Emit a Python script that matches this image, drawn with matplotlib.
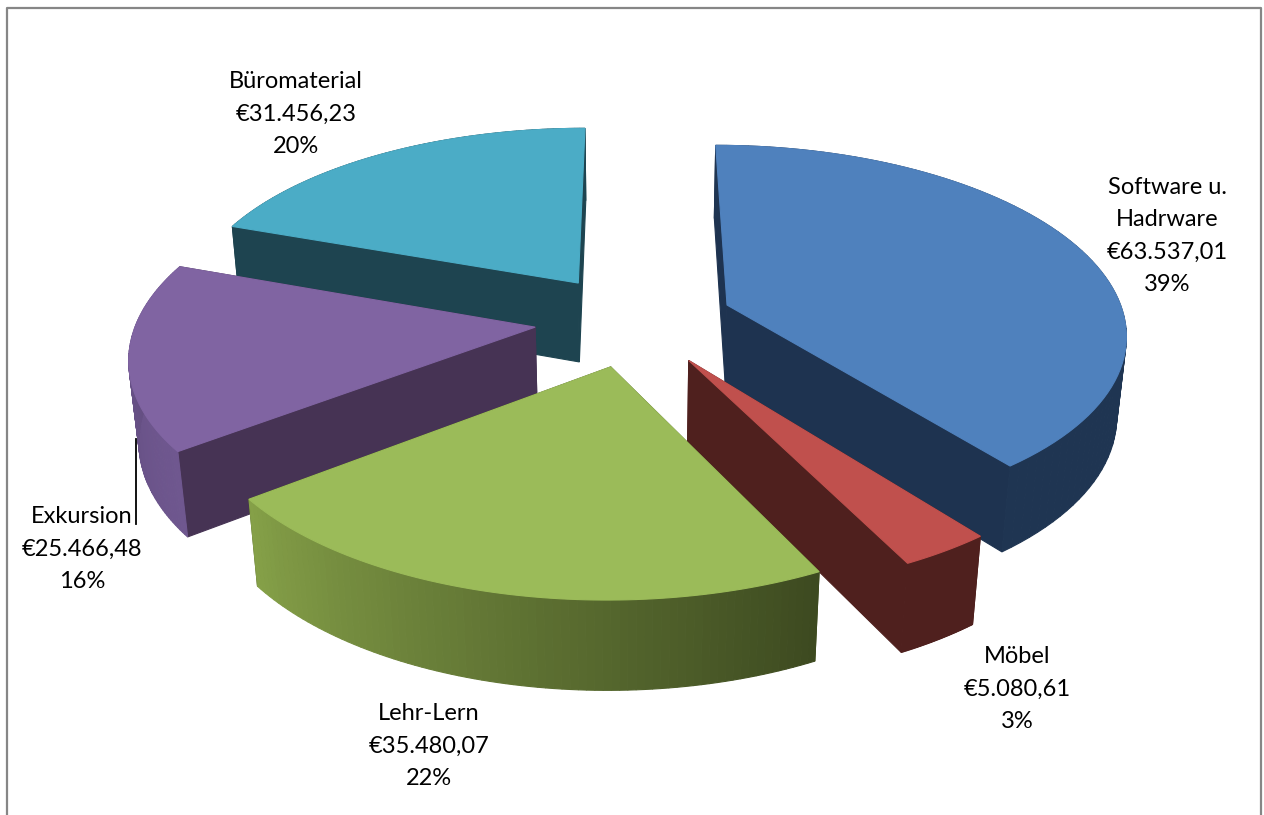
import numpy as np
import matplotlib.pyplot as plt
from matplotlib.patches import Polygon
from matplotlib.colors import to_rgb

plt.rcParams['font.family'] = ['Lato', 'DejaVu Sans']

# chart data
names = ['Software u.\nHadrware', 'Möbel', 'Lehr-Lern', 'Exkursion', 'Büromaterial']
values = [63537.01, 5080.61, 35480.07, 25466.48, 31456.23]
value_labels = ['€63.537,01', '€5.080,61', '€35.480,07', '€25.466,48', '€31.456,23']
percents = ['39%', '3%', '22%', '16%', '20%']

# colours: top, radial wall, rim start, rim end
top_colors = ['#4f81bd', '#c0504d', '#9bbb59', '#8064a2', '#4bacc6']
wall_colors = ['#1e3350', '#4f201e', '#46551f', '#463354', '#1e4450']
rim_start = ['#1f3552', '#4f201e', '#3d4a20', '#6f578f', '#1e4450']
rim_end = ['#1f3552', '#4f201e', '#85a048', '#5f4a7c', '#1e4450']

label_pos = [(1167, 236), (1017, 689), (429, 746), (82, 549), (296, 114)]

# camera settings (pixels)
CX, CY = 634, 320
A, B = 398, 186
KY, KZ = 0.14, 0.02
DEPTH = 82
EXPLODE = 0.25


def project(x, y, z):
    w = 1 + KY * y + KZ * z
    return np.column_stack([CX + A * x / w, CY - B * y / w + DEPTH * z / w])


fig = plt.figure(figsize=(12.64, 8.15), dpi=100)
ax = fig.add_axes([0, 0, 1, 1])
ax.set_xlim(0, 1264)
ax.set_ylim(815, 0)
ax.axis('off')

fractions = np.array(values) / np.sum(values)
edges = np.concatenate([[0], np.cumsum(fractions)]) * 2 * np.pi


def add_poly(pts, color, z):
    ax.add_patch(Polygon(pts, closed=True, fc=color, ec=color, lw=0.8, zorder=z))


# back to front
for order, i in enumerate([4, 3, 0, 1, 2]):
    t1, t2 = edges[i], edges[i + 1]
    mid = (t1 + t2) / 2
    ox, oy = EXPLODE * np.sin(mid), EXPLODE * np.cos(mid)
    th = np.linspace(t1, t2, 80)
    rx, ry = ox + np.sin(th), oy + np.cos(th)
    base = order * 10 + 2

    # radial walls
    for t in (t1, t2):
        xs = np.array([ox, ox + np.sin(t)])
        ys = np.array([oy, oy + np.cos(t)])
        pts = np.vstack([project(xs, ys, 0 * xs), project(xs[::-1], ys[::-1], 1 + 0 * xs)])
        add_poly(pts, wall_colors[i], base)

    # rim, split in strips so it can carry the gradient
    c0, c1 = np.array(to_rgb(rim_start[i])), np.array(to_rgb(rim_end[i]))
    for k in range(len(th) - 1):
        s = k / (len(th) - 2)
        xs = rx[k:k + 2]
        ys = ry[k:k + 2]
        pts = np.vstack([project(xs, ys, 0 * xs), project(xs[::-1], ys[::-1], 1 + 0 * xs)])
        add_poly(pts, tuple(c0 + (c1 - c0) * s), base + 1)

    # top face
    xs = np.concatenate([[ox], rx])
    ys = np.concatenate([[oy], ry])
    add_poly(project(xs, ys, 0 * xs), top_colors[i], base + 2)

    tx, ty = label_pos[i]
    ax.text(tx, ty, names[i] + '\n' + value_labels[i] + '\n' + percents[i],
            ha='center', va='center', fontsize=17, color='black',
            linespacing=1.68, zorder=100)

# leader line of Exkursion
ax.plot([136, 136], [439, 524], color='black', lw=1.3, zorder=99)

# chart frame, open at the bottom edge
ax.plot([6.5, 6.5, 1261, 1261], [815, 7.5, 7.5, 815], color='#868686', lw=1.6, zorder=101)

fig.savefig('out.png', dpi=100)
